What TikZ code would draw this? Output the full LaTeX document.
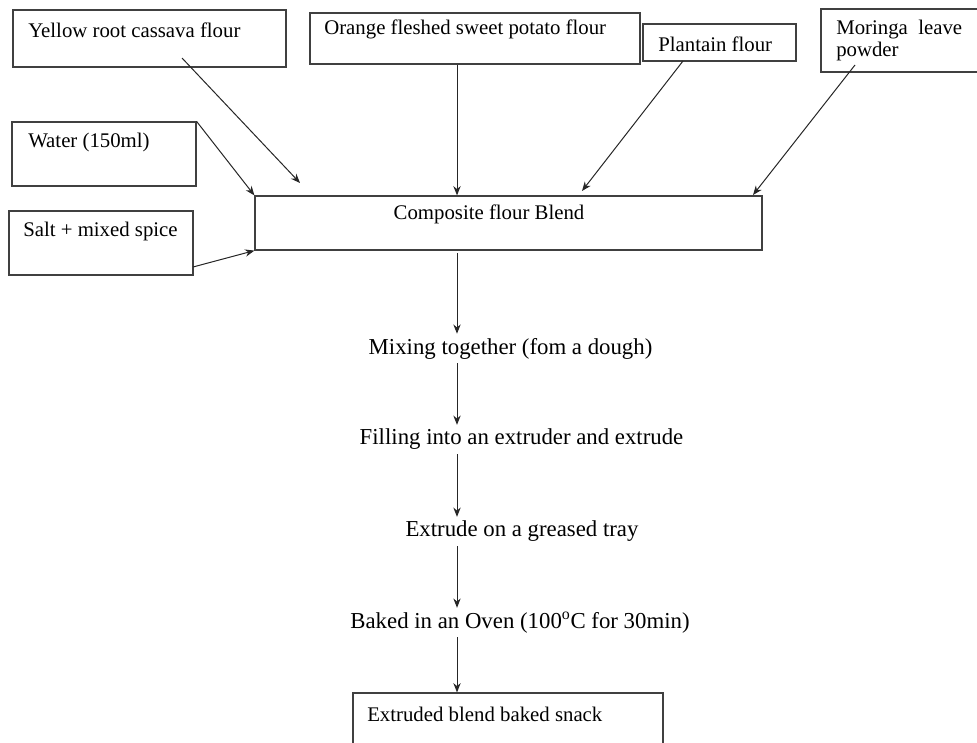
\documentclass[tikz,border=0pt]{standalone}
\usepackage{fontspec}
\setmainfont{Liberation Serif}
\usetikzlibrary{arrows.meta,calc}
\begin{document}
\begin{tikzpicture}[x=0.75pt,y=-0.75pt,
  box/.style={draw=black!75,line width=0.9pt,inner sep=0pt,rectangle},
  lbl/.style={inner sep=0pt,anchor=west,font=\fontsize{15.6}{19}\selectfont,text=black},
  stepT/.style={inner xsep=0pt,inner ysep=3pt,font=\fontsize{17.1}{20}\selectfont,text=black},
  arr/.style={draw=black!85,line width=0.75pt,-{Stealth[length=7pt,width=5.5pt]}}]
\useasboundingbox (0,0) rectangle (977,742);
% input boxes
\node[box,minimum width=273*0.75pt,minimum height=57*0.75pt] (yellow) at (149.5,38.5) {};
\node[lbl] (yellowT) at (28,30) {Yellow root cassava flour};
\node[box,minimum width=330*0.75pt,minimum height=51*0.75pt] (orange) at (475,38.5) {};
\node[lbl] (orangeT) at (324,29) {Orange fleshed sweet potato flour};
\node[box,minimum width=153*0.75pt,minimum height=37*0.75pt] (plantain) at (719.5,42.5) {};
\node[lbl] (plantainT) at (658,44) {Plantain flour};
\node[box,minimum width=160*0.75pt,minimum height=63*0.75pt] (moringa) at (901,40.5) {};
\node[lbl,align=left,font=\fontsize{15.6}{16.5}\selectfont] (moringaT) at (836,40) {Moringa\ \ leave\\powder};
\node[box,minimum width=184*0.75pt,minimum height=64*0.75pt] (water) at (104,154) {};
\node[lbl] (waterT) at (28,142) {Water (150ml)};
\node[box,minimum width=184*0.75pt,minimum height=64*0.75pt] (salt) at (101,243) {};
\node[lbl] (saltT) at (23,231.5) {Salt + mixed spice};
% composite
\node[box,minimum width=507*0.75pt,minimum height=54*0.75pt] (composite) at (508.5,223) {};
\node[inner sep=0pt,font=\fontsize{15.6}{19}\selectfont] (compositeT) at (489,214.5) {Composite flour Blend};
% process steps
\coordinate (fx) at (457,0);
\node[stepT] (mix) at (510.5,348.5) {Mixing together (fom a dough)};
\node[stepT] (fill) at (521.5,439.5) {Filling into an extruder and extrude};
\node[stepT] (tray) at (522,531.5) {Extrude on a greased tray};
\node[stepT] (bake) at (520,622.5) {Baked in an Oven (100\textsuperscript{o}C for 30min)};
\node[box,minimum width=310*0.75pt,minimum height=80*0.75pt] (snack) at (508,733) {};
\node[lbl] (snackT) at (367,714) {Extruded blend baked snack};
% connectors
\coordinate (yA) at (182,58);
\coordinate (yB) at (300,183);
\coordinate (pA) at (683,61);
\coordinate (pB) at (582,191);
\coordinate (mA) at (855,65);
\coordinate (mB) at (753,195);
\coordinate (sA) at (193,267);
\draw[arr] (yA) -- (yB);
\draw[arr] (water.north east) -- (composite.north west);
\draw[arr] (sA) -- (composite.south west);
\draw[arr] (orange.south -| fx) -- (composite.north -| fx);
\draw[arr] (pA) -- (pB);
\draw[arr] (mA) -- (mB);
\draw[arr] ([yshift=-2pt]composite.south -| fx) -- (mix.north -| fx);
\draw[arr] (mix.south -| fx) -- (fill.north -| fx);
\draw[arr] (fill.south -| fx) -- (tray.north -| fx);
\draw[arr] (tray.south -| fx) -- (bake.north -| fx);
\draw[arr] (bake.south -| fx) -- (snack.north -| fx);
\end{tikzpicture}
\end{document}
